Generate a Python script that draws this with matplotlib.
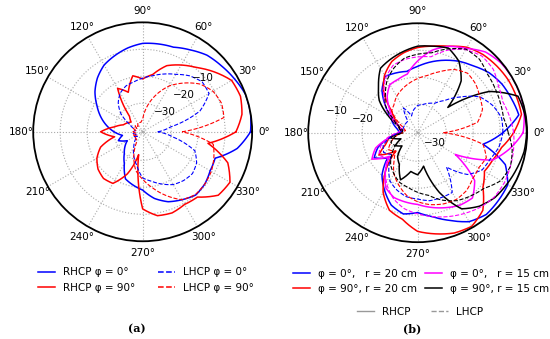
import numpy as np
import matplotlib
matplotlib.use("Agg")
import matplotlib.pyplot as plt
from matplotlib.lines import Line2D

# angles in degrees, 10 deg step (shared by every curve)
angles = list(range(0, 360, 10))

# ---- panel (a) : r = 20 cm ----
a_rhcp_phi0 = [-0.6, 0, 0, -1.3, -2.5, -3.5, -5.5, -7.2, -7.5, -7.8, -9, -10.5,
               -12, -14.5, -17.5, -21, -24, -27, -30, -33, -31, -34, -32, -30,
               -27, -22, -20.5, -19, -15.5, -13, -11.5, -10, -10.5, -11.7, -12, -5]
a_rhcp_phi90 = [-6, -3.2, -2, -2.5, -6, -9.5, -12, -14.5, -19, -21, -19.5, -25,
                -22, -33, -35, -34, -33, -30, -25, -30, -24, -21, -19, -18,
                -18.5, -24, -32, -12, -9, -8.6, -9.5, -9, -4, -3.2, -7, -16]
a_lhcp_phi0 = [-35, -30, -18, -12.2, -11.8, -13.5, -16, -17.8, -19.5, -20.7, -21.8, -22.5,
               -24, -26.5, -30, -35, -37, -38, -37, -37, -38, -37, -38, -36,
               -34, -31, -28, -23.5, -22, -20, -18, -17, -16.5, -17.5, -20, -29]
a_lhcp_phi90 = [-26, -10, -9.5, -10.5, -13, -17, -21, -26, -31, -36, -37, -37,
                -37, -38, -37, -38, -37, -38, -37, -38, -37, -38, -37, -37,
                -36, -31, -26, -23, -19.5, -15.5, -11.5, -10.2, -10.5, -11.2, -12.5, -14]

# ---- panel (b) : r = 20 cm and r = 15 cm ----
b_rhcp_phi0_r20 = [-9, -2.5, -3.6, -4.5, -6, -8.3, -10, -12, -14, -16, -17.5, -17,
                   -16.5, -20, -25, -29, -31, -33, -34, -30, -25, -22, -26, -20,
                   -16, -12, -10, -11, -9, -6, -2.5, -1, -1.5, -2, -6, -16]
b_lhcp_phi0_r20 = [-9, -9, -11, -14, -20, -25, -28, -29, -30, -30.5, -32, -34,
                   -30, -35, -35, -35, -35, -35, -34, -30, -27, -26, -28, -24,
                   -20, -18, -16.5, -16, -15, -15, -15, -24, -16.5, -13, -12, -10]
b_rhcp_phi90_r20 = [-5, -1.5, -1.6, -1.7, -2.2, -2.8, -4, -6.5, -8, -9, -10.5, -12.5,
                    -16, -21, -28, -31, -33, -34, -35, -30, -28, -24, -30, -22,
                    -15, -10, -8, -4, -2.5, -1, -0.5, -3, -9, -12, -11, -9]
b_lhcp_phi90_r20 = [-31, -18, -15, -14, -12.5, -11.8, -13.5, -16.5, -19, -20.5, -22, -23.5,
                    -25, -27, -28, -32, -35, -36, -35, -32, -30, -28, -30, -27,
                    -23, -20, -17, -15, -13.5, -12.5, -12, -12.5, -14, -14.5, -13.5, -16]
b_rhcp_phi0_r15 = [-1.5, -0.5, 0, 0, -0.3, -1.5, -4.5, -6.5, -9.5, -14, -18.5, -19.5,
                   -20, -23, -27, -30, -33, -35, -34, -30, -24, -21, -27, -22,
                   -17, -15, -14.5, -14, -12.5, -11, -9.5, -9, -13, -24.5, -11, -6]
b_lhcp_phi0_r15 = [-5, -6, -7, -6, -4, -3.5, -5, -8, -12, -12.5, -13, -14,
                   -17, -21, -25, -29, -33, -35, -33, -29, -26, -24, -26, -22,
                   -18, -14.5, -12, -10.5, -9, -7.5, -6, -4.5, -3.5, -3.5, -4, -4.5]
b_rhcp_phi90_r15 = [-0.2, -0.3, -1, -10, -26, -15.5, -10, -7.2, -8, -8.5, -10, -11.5,
                    -13, -18, -22, -28, -33, -34, -35, -30, -34, -31, -33, -29,
                    -27, -22, -26, -25, -28, -17, -8, -5, -3.2, -2.4, -1.5, -0.5]
b_lhcp_phi90_r15 = [-7, -8.3, -8, -7.5, -6.8, -5, -4.8, -7.5, -10.5, -11.5, -12.5, -15,
                    -18, -22, -25, -30, -33, -35, -35, -32, -30, -31, -28, -25,
                    -23, -21, -20, -18.5, -17, -14, -11.5, -10, -8.5, -5, -4, -5]

BLUE = "#0000ff"
RED = "#ff0000"
MAG = "#ff00ff"
BLK = "#000000"

FS = 7.5


def polar_line(ax, vals, **kw):
    th = np.deg2rad(angles + [360])
    ln, = ax.plot(th, vals + [vals[0]], **kw)
    # let the polar transform draw each segment as a spiral arc, not a chord
    ln.get_path()._interpolation_steps = 20
    ln.set_data(*ln.get_data())
    return ln


def setup_polar(ax, rlab):
    ax.set_ylim(-40.6, 0)
    ax.set_yticks([-40, -30, -20, -10])
    ax.set_yticklabels([])
    ax.set_thetagrids(range(0, 360, 30),
                      [f"{a}\u00b0" for a in range(0, 360, 30)], fontsize=FS)
    ax.tick_params(axis="x", pad=-2)
    ax.grid(True, color="#aaaaaa", linestyle=":", linewidth=0.8)
    ax.spines["polar"].set_linewidth(1.3)
    for val, (ang, rr) in rlab.items():
        ax.text(np.deg2rad(ang), rr, f"\u2212{abs(val)}", fontsize=FS,
                ha="center", va="center")


fig = plt.figure(figsize=(5.5, 3.39), dpi=100)

ax1 = fig.add_axes([0.0604, 0.2882, 0.398, 0.646], projection="polar")
setup_polar(ax1, {-10: (42, -10.5), -20: (42, -20), -30: (42, -29.5)})
polar_line(ax1, a_rhcp_phi0, color=BLUE, lw=1.1)
polar_line(ax1, a_rhcp_phi90, color=RED, lw=1.1)
polar_line(ax1, a_lhcp_phi0, color=BLUE, lw=0.8, ls="--")
polar_line(ax1, a_lhcp_phi90, color=RED, lw=0.8, ls="--")

ax2 = fig.add_axes([0.5604, 0.2855, 0.398, 0.646], projection="polar")
setup_polar(ax2, {-10: (165, -9.5), -20: (166, -19.8), -30: (-31, -33)})
polar_line(ax2, b_rhcp_phi0_r20, color=BLUE, lw=1.1)
polar_line(ax2, b_rhcp_phi90_r20, color=RED, lw=1.1)
polar_line(ax2, b_rhcp_phi0_r15, color=MAG, lw=1.1)
polar_line(ax2, b_rhcp_phi90_r15, color=BLK, lw=1.1)
polar_line(ax2, b_lhcp_phi0_r20, color=BLUE, lw=0.8, ls="--")
polar_line(ax2, b_lhcp_phi90_r20, color=RED, lw=0.8, ls="--")
polar_line(ax2, b_lhcp_phi0_r15, color=MAG, lw=0.8, ls="--")
polar_line(ax2, b_lhcp_phi90_r15, color=BLK, lw=0.8, ls="--")

# legends
h_a = [Line2D([], [], color=BLUE, lw=1.1), Line2D([], [], color=RED, lw=1.1),
       Line2D([], [], color=BLUE, lw=1.1, ls="--"), Line2D([], [], color=RED, lw=1.1, ls="--")]
l_a = ["RHCP \u03c6 = 0\u00b0", "RHCP \u03c6 = 90\u00b0", "LHCP \u03c6 = 0\u00b0", "LHCP \u03c6 = 90\u00b0"]
fig.legend(h_a, l_a, ncol=2, loc="center", bbox_to_anchor=(0.266, 0.174),
           frameon=False, fontsize=FS, handlelength=1.6, columnspacing=2.2,
           labelspacing=0.5, handletextpad=0.8)

h_b = [Line2D([], [], color=BLUE, lw=1.1), Line2D([], [], color=RED, lw=1.1),
       Line2D([], [], color=MAG, lw=1.1), Line2D([], [], color=BLK, lw=1.1)]
l_b = ["\u03c6 = 0\u00b0,   r = 20 cm", "\u03c6 = 90\u00b0, r = 20 cm",
       "\u03c6 = 0\u00b0,   r = 15 cm", "\u03c6 = 90\u00b0, r = 15 cm"]
fig.legend(h_b, l_b, ncol=2, loc="center", bbox_to_anchor=(0.766, 0.17),
           frameon=False, fontsize=FS, handlelength=1.6, columnspacing=0.8,
           labelspacing=0.5, handletextpad=0.8)

h_c = [Line2D([], [], color="#999999", lw=1.0), Line2D([], [], color="#999999", lw=1.0, ls="--")]
fig.legend(h_c, ["RHCP", "LHCP"], ncol=2, loc="center", bbox_to_anchor=(0.764, 0.08),
           frameon=False, fontsize=FS, handlelength=1.6, columnspacing=2.0,
           handletextpad=0.8)

fig.text(0.249, 0.03, "(a)", fontsize=8, fontweight="bold", family="DejaVu Serif",
         ha="center", va="center")
fig.text(0.749, 0.03, "(b)", fontsize=8, fontweight="bold", family="DejaVu Serif",
         ha="center", va="center")

fig.savefig("out.png", dpi=100)
